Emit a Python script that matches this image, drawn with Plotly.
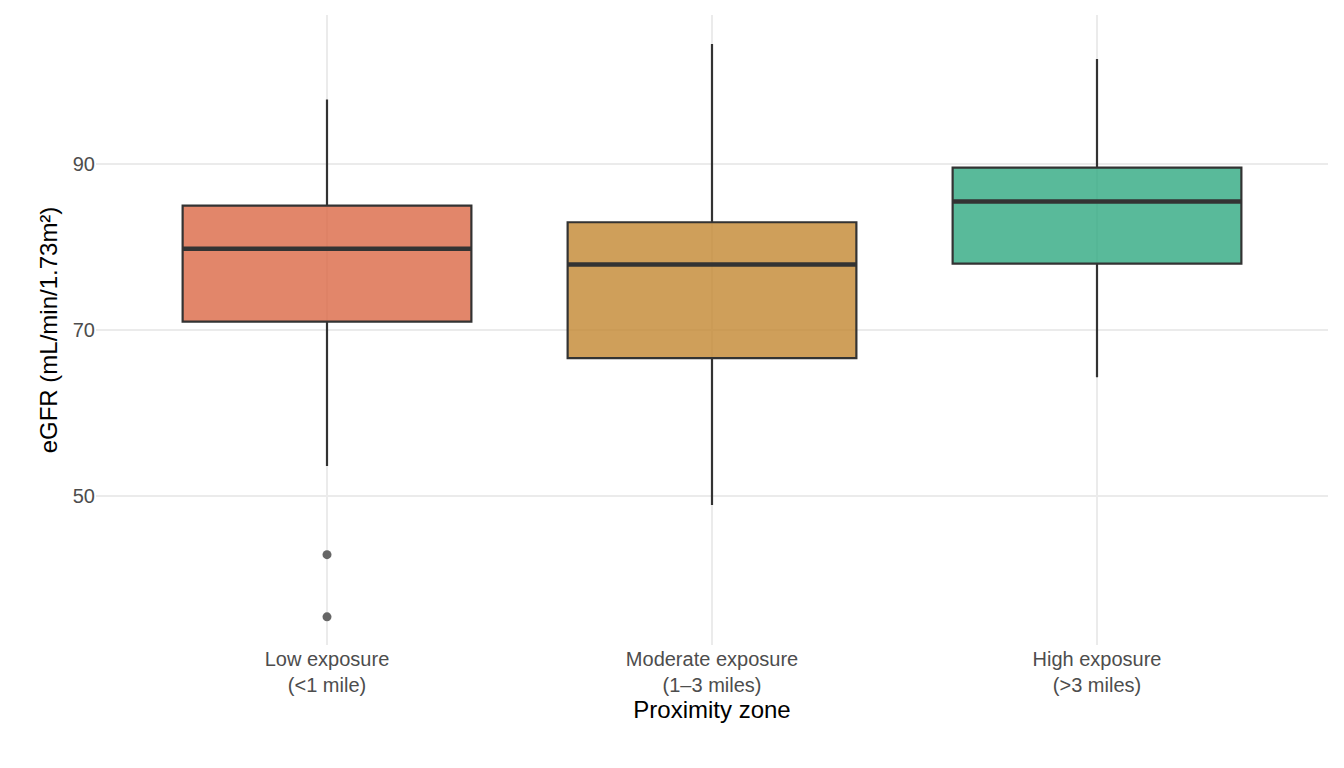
import plotly.graph_objects as go

zones = ["Low exposure<br>(<1 mile)", "Moderate exposure<br>(1–3 miles)", "High exposure<br>(>3 miles)"]
q1 = [71.0, 66.6, 78.0]
median = [79.8, 77.9, 85.5]
q3 = [85.0, 83.0, 89.6]
lower = [53.6, 48.9, 64.3]
upper = [97.8, 104.5, 102.7]
colors = ["rgba(218,100,64,0.78)", "rgba(193,132,43,0.78)", "rgba(42,166,125,0.78)"]
outlier_x = [1, 1]
outlier_y = [42.9, 35.4]

xs = [1, 2, 3]
fig = go.Figure()
for i in range(3):
    fig.add_trace(go.Box(
        x=[xs[i]], q1=[q1[i]], median=[median[i]], q3=[q3[i]],
        lowerfence=[lower[i]], upperfence=[upper[i]],
        width=0.75, whiskerwidth=0, fillcolor=colors[i],
        line=dict(color="#333333", width=2.2), boxpoints=False,
        showlegend=False, hoverinfo="skip"))
    fig.add_trace(go.Scatter(
        x=[xs[i] - 0.375, xs[i] + 0.375], y=[median[i], median[i]],
        mode="lines", line=dict(color="#333333", width=4.5),
        showlegend=False, hoverinfo="skip"))

fig.add_trace(go.Scatter(x=outlier_x, y=outlier_y, mode="markers",
                         marker=dict(color="#666666", size=9), showlegend=False))

fig.update_layout(
    width=1344, height=768, plot_bgcolor="white", paper_bgcolor="white",
    margin=dict(l=88, r=24, t=7, b=131),
    font=dict(family="Liberation Sans, Arial", size=20, color="#4D4D4D"),
    xaxis=dict(range=[0.4, 3.6], tickvals=xs, ticktext=zones, showgrid=True,
               gridcolor="#EBEBEB", gridwidth=1.5, zeroline=False, ticks="",
               title=dict(text="Proximity zone", font=dict(size=24, color="black"), standoff=6)),
    yaxis=dict(range=[32, 108], tickvals=[50, 70, 90], showgrid=True,
               gridcolor="#EBEBEB", gridwidth=1.5, zeroline=False, ticks="",
               title=dict(text="eGFR (mL/min/1.73m²)", font=dict(size=24, color="black"), standoff=8)),
)
fig.write_html("out.html")
